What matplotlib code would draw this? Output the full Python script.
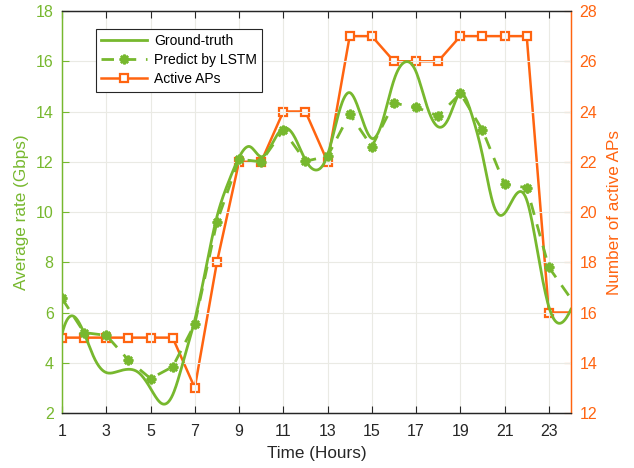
import numpy as np
import matplotlib
matplotlib.use("Agg")
import matplotlib.pyplot as plt

plt.rcParams['font.family'] = ['Liberation Sans', 'DejaVu Sans']

# Ground-truth rate, sampled every half hour (Gbps)
gt_hours = [1.0, 1.5, 2.0, 2.5, 3.0, 3.5, 4.0, 4.5, 5.0, 5.5, 6.0, 6.5,
            7.0, 7.5, 8.0, 8.5, 9.0, 9.5, 10.0, 10.5, 11.0, 11.5, 12.0, 12.5,
            13.0, 13.5, 14.0, 14.5, 15.0, 15.5, 16.0, 16.5, 17.0, 17.5, 18.0, 18.5,
            19.0, 19.5, 20.0, 20.5, 21.0, 21.5, 22.0, 22.5, 23.0, 23.5, 24.0]
ground_truth = [5.14, 5.86, 5.17, 4.11, 3.61, 3.65, 3.74, 3.58, 2.98, 2.38, 2.72, 4.11,
                5.70, 7.75, 9.81, 11.14, 12.17, 12.60, 12.20, 12.73, 13.33, 13.00, 12.07, 11.67,
                12.27, 13.92, 14.75, 13.86, 12.93, 13.66, 15.25, 15.97, 15.58, 14.19, 13.39, 13.79,
                14.72, 13.92, 12.27, 10.28, 9.95, 10.68, 10.48, 8.36, 6.23, 5.57, 6.13]

# Hourly LSTM prediction (Gbps) and number of active APs
hours = list(range(1, 26))
lstm_pred = [6.56, 5.20, 5.09, 4.11, 3.37, 3.84, 5.54, 9.61, 12.10, 12.00,
             13.26, 12.02, 12.22, 13.90, 12.60, 14.33, 14.17, 13.82, 14.72, 13.26,
             11.10, 10.97, 7.80, 6.55, 5.30]
active_aps = [15, 15, 15, 15, 15, 15, 13, 18, 22, 22,
              24, 24, 22, 27, 27, 26, 26, 26, 27, 27,
              27, 27, 16, 16, 16]

xticks = list(range(1, 24, 2))
left_ticks = list(range(2, 19, 2))
right_ticks = list(range(12, 29, 2))

GREEN = '#77B82E'
ORANGE = '#FF6410'
DARK = '#262626'


def spline_notaknot(x, y, xs):
    """Cubic spline interpolation with not-a-knot end conditions."""
    x = np.asarray(x, float)
    y = np.asarray(y, float)
    n = len(x)
    h = np.diff(x)
    A = np.zeros((n, n))
    b = np.zeros(n)
    for i in range(1, n - 1):
        A[i, i - 1] = h[i - 1]
        A[i, i] = 2 * (h[i - 1] + h[i])
        A[i, i + 1] = h[i]
        b[i] = 6 * ((y[i + 1] - y[i]) / h[i] - (y[i] - y[i - 1]) / h[i - 1])
    A[0, 0] = h[1]
    A[0, 1] = -(h[0] + h[1])
    A[0, 2] = h[0]
    A[-1, -3] = h[-1]
    A[-1, -2] = -(h[-2] + h[-1])
    A[-1, -1] = h[-2]
    M = np.linalg.solve(A, b)
    idx = np.clip(np.searchsorted(x, xs) - 1, 0, n - 2)
    x0, x1 = x[idx], x[idx + 1]
    hh = x1 - x0
    return (M[idx] * (x1 - xs) ** 3 / (6 * hh) + M[idx + 1] * (xs - x0) ** 3 / (6 * hh)
            + (y[idx] / hh - M[idx] * hh / 6) * (x1 - xs)
            + (y[idx + 1] / hh - M[idx + 1] * hh / 6) * (xs - x0))


fig = plt.figure(figsize=(6.34, 4.68), dpi=100)
ax = fig.add_axes([0.0978, 0.1175, 0.8028, 0.859])
ax2 = ax.twinx()

xs = np.linspace(gt_hours[0], gt_hours[-1], 800)
gt_smooth = spline_notaknot(gt_hours, ground_truth, xs)

# markers only on hours inside the visible window (1..23)
visible = list(range(23))

l1, = ax.plot(xs, gt_smooth, color=GREEN, lw=2.0, label='Ground-truth')
l2, = ax.plot(hours, lstm_pred, color=GREEN, lw=2.0, ls=(0, (4.5, 3.5)),
              marker=(8, 2, 0), ms=7, mew=1.8, markevery=visible,
              label='Predict by LSTM')
l3, = ax2.plot(hours, active_aps, color=ORANGE, lw=1.8, marker='s', ms=6,
               mfc='white', mec=ORANGE, mew=1.6, markevery=visible,
               label='Active APs')
ax.set_zorder(ax2.get_zorder() + 1)
ax.patch.set_visible(False)

ax.set_xlim(1, 24)
ax.set_ylim(2, 18)
ax2.set_ylim(12, 28)
ax.set_xticks(xticks)
ax.set_yticks(left_ticks)
ax2.set_yticks(right_ticks)

ax.grid(True, color='#EAEAE4', lw=0.8)
ax.set_axisbelow(True)

ax.tick_params(axis='x', direction='in', length=5, colors=DARK, labelsize=11.5,
               top=True, pad=8)
ax.tick_params(axis='y', direction='in', length=5, colors=GREEN, labelsize=11.5,
               pad=6)
ax2.tick_params(axis='y', direction='in', length=5, colors=ORANGE, labelsize=11.5,
                pad=6)

for a in (ax, ax2):
    a.spines['top'].set_color(DARK)
    a.spines['bottom'].set_color(DARK)
    a.spines['left'].set_color(GREEN)
    a.spines['right'].set_color(ORANGE)
    for s in a.spines.values():
        s.set_linewidth(0.9)

ax.set_xlabel('Time (Hours)', fontsize=12.3, color=DARK, labelpad=5)
ax.set_ylabel('Average rate (Gbps)', fontsize=12.3, color=GREEN, labelpad=5)
ax2.set_ylabel('Number of active APs', fontsize=12.3, color=ORANGE, labelpad=7)

leg = ax.legend(handles=[l1, l2, l3], loc='upper left', bbox_to_anchor=(0.066, 0.956),
                fontsize=10, handlelength=3.3, fancybox=False, framealpha=1,
                edgecolor=DARK, borderpad=0.4, labelspacing=0.35, handletextpad=0.5,
                borderaxespad=0)
leg.get_frame().set_linewidth(0.8)

fig.savefig('out.png', dpi=100)
